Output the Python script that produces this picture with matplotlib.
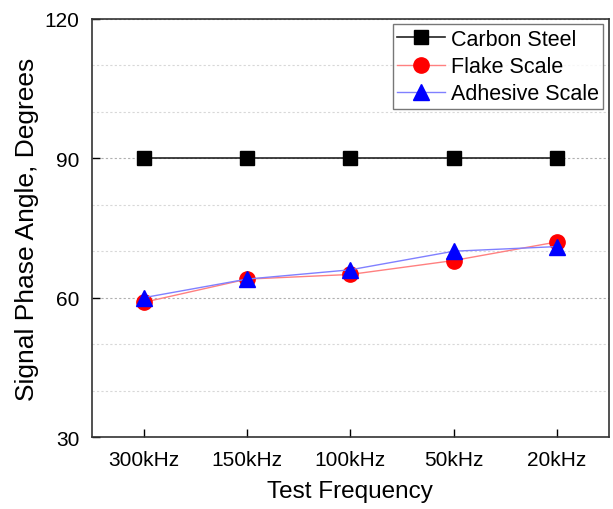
import numpy as np
import matplotlib.pyplot as plt
from matplotlib.ticker import MultipleLocator

# data
freqs = ['300kHz', '150kHz', '100kHz', '50kHz', '20kHz']
carbon_steel = [90, 90, 90, 90, 90]
flake_scale = [59, 64, 65, 68, 72]
adhesive_scale = [60, 64, 66, 70, 71]

plt.rcParams['font.family'] = ['Liberation Sans', 'DejaVu Sans']

fig = plt.figure(figsize=(6.13, 5.10), dpi=100)
ax = fig.add_axes([0.150, 0.141, 0.843, 0.820])

x = np.arange(len(freqs))
ax.plot(x, carbon_steel, color='#222222', lw=1.2, marker='s', ms=10,
        mfc='black', mec='black', label='Carbon Steel', zorder=3)
ax.plot(x, flake_scale, color='#ff8080', lw=1.0, marker='o', ms=11,
        mfc='red', mec='red', label='Flake Scale', zorder=3)
ax.plot(x, adhesive_scale, color='#8080ff', lw=1.0, marker='^', ms=12,
        mfc='blue', mec='blue', label='Adhesive Scale', zorder=4)

ax.set_xlim(-0.5, 4.5)
ax.set_ylim(30, 120)
ax.set_xticks(x)
ax.set_xticklabels(freqs)
ax.yaxis.set_major_locator(MultipleLocator(30))
ax.yaxis.set_minor_locator(MultipleLocator(10))

# dotted grid, darker on major ticks
ax.grid(axis='y', which='major', color='#b0b0b0', ls=(0, (2, 2)), lw=0.8)
ax.grid(axis='y', which='minor', color='#d8d8d8', ls=(0, (2, 2)), lw=0.8)
ax.set_axisbelow(True)

ax.tick_params(which='both', direction='in', labelsize=15)
ax.tick_params(which='major', length=6, width=1)
ax.tick_params(which='minor', length=0)
ax.tick_params(axis='x', pad=9)
ax.tick_params(axis='y', pad=9)
for s in ax.spines.values():
    s.set_linewidth(1.2)
    s.set_color('#333333')

ax.set_xlabel('Test Frequency', fontsize=17.5, labelpad=8)
ax.set_ylabel('Signal Phase Angle, Degrees', fontsize=19, labelpad=4)

leg = ax.legend(loc='upper right', fontsize=15.5, frameon=True, fancybox=False,
                edgecolor='#555555', borderpad=0.2, handlelength=2.2,
                handletextpad=0.3, labelspacing=0.3, borderaxespad=0.25)
leg.get_frame().set_linewidth(1.0)

fig.savefig('out.png', dpi=100)
